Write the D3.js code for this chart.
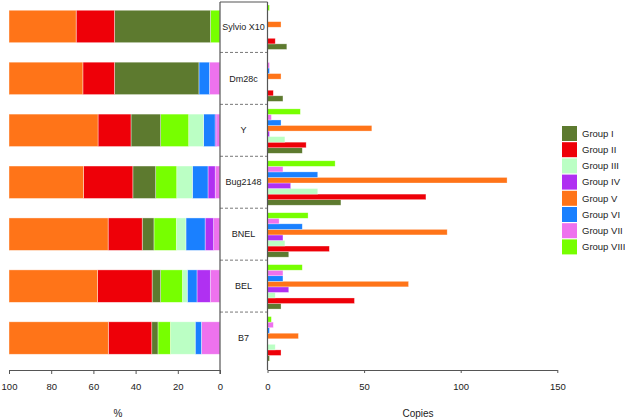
<!DOCTYPE html>
<html><head><meta charset="utf-8">
<script src="https://cdn.jsdelivr.net/npm/d3@7"></script>
<style>body{margin:0;background:#fff}svg{display:block}text{font-family:"Liberation Sans",Arial,sans-serif;fill:#222}</style>
</head><body><svg id="c" width="625" height="420"></svg>
<script>
const strains = ["Sylvio X10","Dm28c","Y","Bug2148","BNEL","BEL","B7"];
const groups = ["Group I","Group II","Group III","Group IV","Group V","Group VI","Group VII","Group VIII"];
const colors = ["#5d7a2f","#ee0008","#bbffc4","#b030f2","#ff7418","#1a80ff","#ee72ee","#77ff00"];
const groupI    = [10, 8, 18, 38, 11, 7, 1];
const groupII   = [4, 3, 20, 82, 32, 45, 7];
const groupIII  = [0, 0, 9, 26, 9, 4, 4];
const groupIV   = [0, 0, 1, 12, 8, 11, 0];
const groupV    = [7, 7, 54, 124, 93, 73, 16];
const groupVI   = [0, 1, 7, 26, 18, 8, 1];
const groupVII  = [0, 1, 2, 8, 6, 8, 3];
const groupVIII = [1, 0, 17, 35, 21, 18, 2];
const pctTicks = [100, 80, 60, 40, 20, 0];
const copyTicks = [0, 50, 100, 150];
const stackOrder = ["Group VII","Group IV","Group VI","Group III","Group VIII","Group I","Group II","Group V"];

const series = [groupI, groupII, groupIII, groupIV, groupV, groupVI, groupVII, groupVIII];
const color = d3.scaleOrdinal(groups, colors);
const rows = strains.map((s, i) => {
  const r = {strain: s};
  groups.forEach((g, j) => r[g] = series[j][i]);
  r.total = d3.sum(groups, g => r[g]);
  return r;
});
const pctRows = rows.map(r => {
  const p = {strain: r.strain};
  groups.forEach(g => p[g] = r[g] / r.total * 100);
  return p;
});

const svg = d3.select("#c");
const axisY = 370;
const y = d3.scaleBand(strains, [0.5, 364]).paddingInner(0).paddingOuter(0);
const xL = d3.scaleLinear([0, 100], [220, 9]);
const xR = d3.scaleLinear([0, 150], [267.5, 557.3]);

// left stacked bars
const stack = d3.stack().keys(stackOrder)(pctRows);
const lb = y.bandwidth() * 0.625, lo = (y.bandwidth() - lb) / 2;
svg.append("g").selectAll("g").data(stack).join("g")
  .attr("fill", d => color(d.key))
  .selectAll("rect").data(d => d).join("rect")
  .attr("x", d => xL(d[1])).attr("width", d => xL(d[0]) - xL(d[1]))
  .attr("y", d => y(d.data.strain) + lo).attr("height", lb)
  .attr("stroke", "#fff").attr("stroke-opacity", 0.55).attr("stroke-width", 0.7);

// right grouped bars
const inner = d3.scaleBand(groups.slice().reverse(), [4.5, y.bandwidth() - 3]);
const rg = svg.append("g");
rows.forEach(r => {
  rg.append("g").selectAll("rect").data(groups.filter(g => r[g] > 0)).join("rect")
    .attr("x", xR(0)).attr("width", g => xR(r[g]) - xR(0))
    .attr("y", g => y(r.strain) + inner(g)).attr("height", inner.bandwidth())
    .attr("fill", g => color(g))
    .attr("stroke", "#fff").attr("stroke-opacity", 0.5).attr("stroke-width", 0.6);
});

// label box
const box = svg.append("g").attr("stroke", "#555").attr("fill", "none");
box.append("line").attr("x1", 220).attr("x2", 267.5).attr("y1", 2).attr("y2", 2).attr("stroke-width", 1.2);
box.append("line").attr("x1", 220).attr("x2", 220).attr("y1", 2).attr("y2", axisY + 4).attr("stroke-width", 1.2);
box.append("line").attr("x1", 267.5).attr("x2", 267.5).attr("y1", 2).attr("y2", axisY).attr("stroke-width", 1.2);
strains.slice(1).forEach(s => {
  box.append("line").attr("x1", 220).attr("x2", 267.5).attr("y1", y(s)).attr("y2", y(s))
    .attr("stroke-dasharray", "3,2").attr("stroke-width", 0.8);
});
svg.append("g").selectAll("text").data(strains).join("text")
  .attr("x", 243.5).attr("y", s => y(s) + y.bandwidth() / 2).attr("dy", "0.35em")
  .attr("text-anchor", "middle").attr("font-size", 9).text(s => s);

// axes
const gl = svg.append("g").attr("transform", `translate(0,${axisY})`)
  .call(d3.axisBottom(xL).tickValues(pctTicks).tickSize(4).tickSizeOuter(0).tickPadding(9));
const gr = svg.append("g").attr("transform", `translate(0,${axisY})`)
  .call(d3.axisBottom(xR).tickValues(copyTicks).tickSize(3).tickSizeOuter(0).tickPadding(10));
[gl, gr].forEach(g => {
  g.select(".domain").attr("stroke", "#555").attr("stroke-width", 1.2);
  g.selectAll(".tick line").attr("stroke", "#555");
  g.selectAll(".tick text").attr("font-size", 9.5).attr("fill", "#222")
    .style("font-family", '"Liberation Sans",Arial,sans-serif');
});
svg.append("text").attr("x", 118).attr("y", 416.5).attr("text-anchor", "middle").attr("font-size", 10).text("%");
svg.append("text").attr("x", 418).attr("y", 416.5).attr("text-anchor", "middle").attr("font-size", 10).text("Copies");

// legend
const lg = svg.append("g").attr("transform", "translate(562,126)");
const li = lg.selectAll("g").data(groups).join("g").attr("transform", (d, i) => `translate(0,${i * 16.2})`);
li.append("rect").attr("width", 15).attr("height", 15).attr("fill", d => color(d));
li.append("text").attr("x", 20).attr("y", 7.5).attr("dy", "0.35em").attr("font-size", 9.5).text(d => d);
</script></body></html>
